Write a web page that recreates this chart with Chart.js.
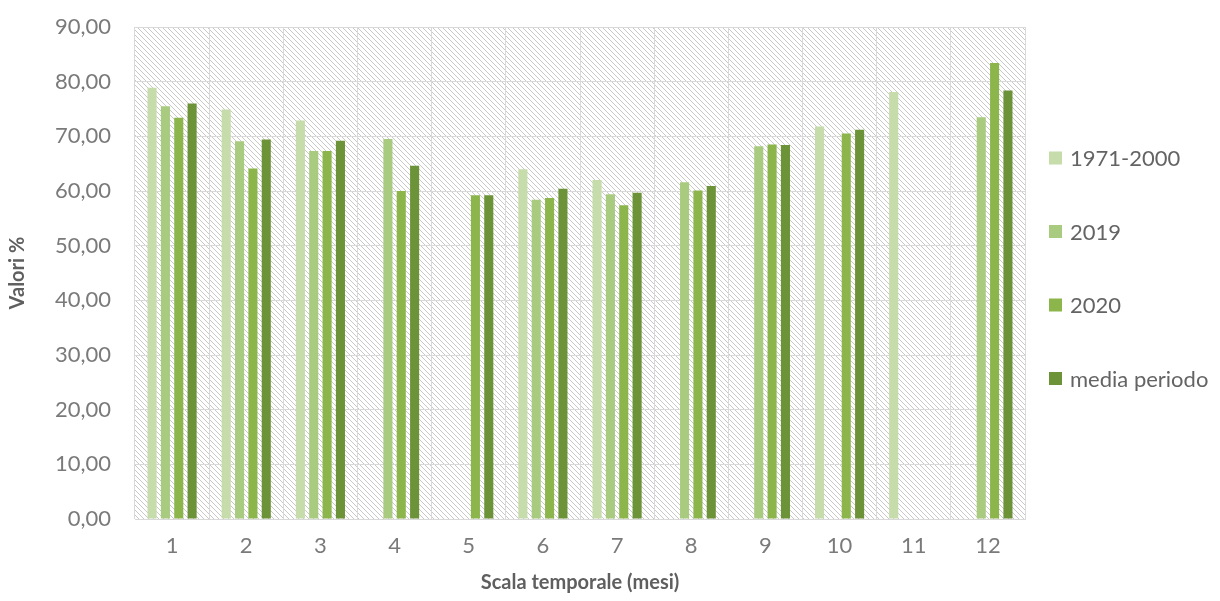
<!DOCTYPE html>
<html lang="it">
<head>
<meta charset="utf-8">
<title>Valori % per mese</title>
<script src="https://cdn.jsdelivr.net/npm/chart.js@4/dist/chart.umd.min.js"></script>
<style>
  html, body { margin: 0; padding: 0; background: #ffffff; }
  #wrap { width: 1220px; height: 601px; position: relative; }
</style>
</head>
<body>
<div id="wrap"><canvas id="chart" width="1220" height="601"></canvas></div>
<script>
// Months on the x axis
const months = ['1', '2', '3', '4', '5', '6', '7', '8', '9', '10', '11', '12'];

// Series values (%), null where a month has no value
const serie19712000 = [78.9, 74.9, 72.9, null, null, 64.0, 62.0, null, null, 71.8, 78.1, null];
const serie2019     = [75.5, 69.1, 67.3, 69.5, null, 58.4, 59.4, 61.6, 68.2, null, null, 73.5];
const serie2020     = [73.4, 64.1, 67.3, 60.0, 59.2, 58.7, 57.4, 60.1, 68.5, 70.5, null, 83.4];
const serieMedia    = [76.0, 69.4, 69.2, 64.6, 59.2, 60.4, 59.7, 60.9, 68.4, 71.2, null, 78.4];

const seriesLabels = ['1971-2000', '2019', '2020', 'media periodo'];
const seriesColors = ['#c6dcab', '#a8cb80', '#8cb64c', '#6d9338'];

// Y axis range
const yMin = 0;
const yMax = 90;
const yStep = 10;

const FONT = 'Lato, "Open Sans", sans-serif';

// Diagonal hatch used as the plot area background
function makeHatch() {
  const s = 5;
  const c = document.createElement('canvas');
  c.width = s; c.height = s;
  const g = c.getContext('2d');
  g.fillStyle = '#ffffff';
  g.fillRect(0, 0, s, s);
  g.strokeStyle = '#c8c8c8';
  g.lineWidth = 1;
  g.beginPath();
  g.moveTo(-1, -1); g.lineTo(s + 1, s + 1);
  g.moveTo(-1, s - 1); g.lineTo(1, s + 1);
  g.moveTo(s - 1, -1); g.lineTo(s + 1, 1);
  g.stroke();
  return c;
}

const hatchPlugin = {
  id: 'hatchBackground',
  beforeDraw(chart) {
    const { ctx, chartArea: a } = chart;
    const pat = ctx.createPattern(makeHatch(), 'repeat');
    ctx.save();
    ctx.fillStyle = pat;
    ctx.fillRect(a.left, a.top, a.right - a.left, a.bottom - a.top);
    ctx.restore();
  }
};

// Legend drawn at the right of the plot, one entry per dataset
const sideLegend = {
  id: 'sideLegend',
  afterDraw(chart, args, opts) {
    const { ctx } = chart;
    ctx.save();
    ctx.font = opts.fontSize + 'px ' + FONT;
    ctx.textBaseline = 'middle';
    ctx.textAlign = 'left';
    chart.data.datasets.forEach((ds, i) => {
      const y = opts.top + i * opts.step;
      ctx.fillStyle = ds.backgroundColor;
      ctx.fillRect(opts.boxX, y - opts.box / 2, opts.box, opts.box);
      ctx.fillStyle = opts.color;
      ctx.fillText(ds.label, opts.textX, y + 1);
    });
    ctx.restore();
  }
};

const datasets = [serie19712000, serie2019, serie2020, serieMedia].map((vals, i) => ({
  label: seriesLabels[i],
  data: vals,
  backgroundColor: seriesColors[i],
  borderWidth: 0,
  categoryPercentage: 0.72,
  barPercentage: 0.68
}));

new Chart(document.getElementById('chart'), {
  type: 'bar',
  data: { labels: months, datasets },
  plugins: [hatchPlugin, sideLegend],
  options: {
    responsive: false,
    animation: false,
    layout: { padding: { left: 0, right: 195, top: 27, bottom: 0 } },
    plugins: {
      legend: { display: false },
      tooltip: { enabled: false },
      sideLegend: { top: 158, step: 73.5, boxX: 1049, box: 13, textX: 1070, fontSize: 22, color: '#646464' }
    },
    scales: {
      x: {
        grid: { color: '#d9d9d9', lineWidth: 1, drawTicks: false, offset: true },
        border: { color: '#d9d9d9' },
        ticks: { color: '#7a7a7a', font: { family: FONT, size: 22 }, padding: 14 },
        title: {
          display: true, text: 'Scala temporale (mesi)', color: '#5f5f5f',
          font: { family: FONT, size: 20, weight: 'bold' }, padding: { top: 0, bottom: 6 }
        },
        afterFit(scale) { scale.height = 82; scale.paddingLeft = 0; scale.paddingRight = 0; }
      },
      y: {
        min: yMin, max: yMax,
        grid: { color: '#d9d9d9', lineWidth: 1, drawTicks: false },
        border: { display: false },
        ticks: {
          stepSize: yStep, color: '#7a7a7a', font: { family: FONT, size: 22 }, padding: 24,
          callback: v => v.toFixed(2).replace('.', ',')
        },
        title: {
          display: true, text: 'Valori %', color: '#5f5f5f',
          font: { family: FONT, size: 20, weight: 'bold' }, padding: { top: 6, bottom: 0 }
        },
        afterFit(scale) { scale.width = 135; scale.paddingTop = 0; scale.paddingBottom = 0; }
      }
    }
  }
});
</script>
</body>
</html>
